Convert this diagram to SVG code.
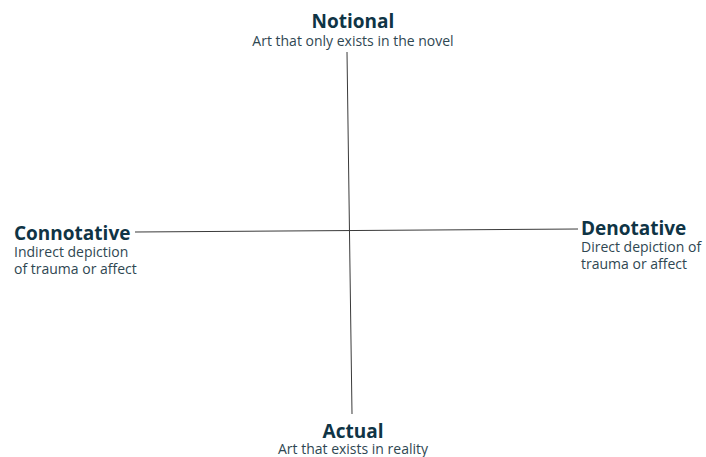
<svg xmlns="http://www.w3.org/2000/svg" width="706" height="457" viewBox="0 0 706 457">
  <style>
    .title { font-family: "Open Sans", "Liberation Sans", sans-serif; font-weight: 700; font-size: 19px; fill: #0f3445; }
    .sub { font-family: "Open Sans", "Liberation Sans", sans-serif; font-size: 14px; fill: #2f4752; }
    .axis { stroke: #3a3a3a; stroke-width: 1; fill: none; }
  </style>
  <rect width="706" height="457" fill="#ffffff"/>
  <!-- the two crossing axes -->
  <g id="connectors">
    <line class="axis" x1="347" y1="52" x2="352" y2="414"/>
    <line class="axis" x1="135" y1="232" x2="578" y2="229"/>
  </g>
  <g id="notional">
    <text class="title" x="353" y="28" text-anchor="middle">Notional</text>
    <text class="sub" x="353" y="46" text-anchor="middle">Art that only exists in the novel</text>
  </g>
  <g id="connotative">
    <text class="title" x="14" y="240">Connotative</text>
    <text class="sub" x="14" y="257">Indirect depiction</text>
    <text class="sub" x="14" y="274">of trauma or affect</text>
  </g>
  <g id="denotative">
    <text class="title" x="581" y="235">Denotative</text>
    <text class="sub" x="581" y="252">Direct depiction of</text>
    <text class="sub" x="581" y="269">trauma or affect</text>
  </g>
  <g id="actual">
    <text class="title" x="353" y="438" text-anchor="middle">Actual</text>
    <text class="sub" x="353" y="454" text-anchor="middle">Art that exists in reality</text>
  </g>
</svg>
